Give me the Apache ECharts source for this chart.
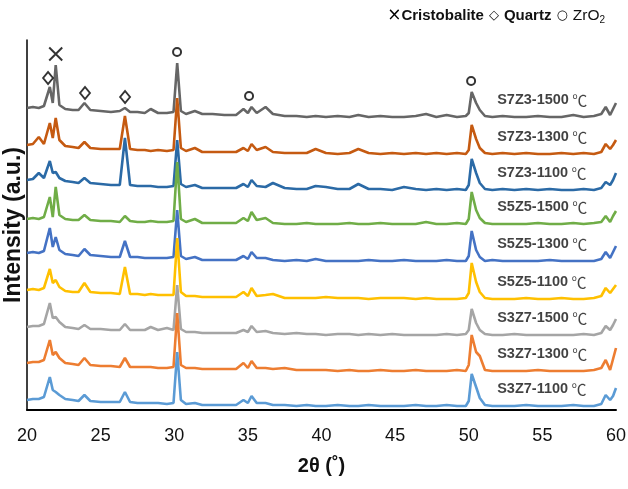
<!DOCTYPE html>
<html><head><meta charset="utf-8">
<script src="https://cdn.jsdelivr.net/npm/echarts@6/dist/echarts.min.js"></script>
<style>html,body{margin:0;padding:0;background:#fff}#c{width:628px;height:489px}</style>
</head><body><div id="c"></div>
<script>
// 2θ sampling positions (degrees)
const twoTheta = [
  20.0, 20.4, 20.8, 21.15, 21.55, 21.75, 21.95, 22.2, 22.6, 23.1,
  23.5, 23.9, 24.3, 25.0, 25.7, 26.3, 26.65, 27.0, 27.5,
  28.0, 28.4, 28.9, 29.5, 29.95, 30.2, 30.45, 30.8,
  31.4, 31.9, 32.6, 33.4, 34.2, 34.7, 35.0, 35.25, 35.6, 36.2, 36.7,
  37.5, 38.3, 39.0, 39.6, 40.3, 41.1, 41.9, 42.5, 43.2, 44.0, 44.8, 45.6, 46.4, 47.1, 47.8, 48.5, 49.2, 49.8,
  50.0, 50.2, 50.5, 50.75, 51.1, 51.6, 52.3,
  53.1, 53.9, 54.7, 55.5, 56.3, 57.1, 57.8, 58.5, 59.0, 59.3, 59.6, 59.8, 60.0
];

// relative intensities (a.u.)
const S7Z3_1500 = [
  9,10,9,11,30,14,52,12,8,7,
  7,14,7,6,5,6,9,5,5,
  4,8,4,4,5,54,6,3,
  6,3,3,2,2,8,4,10,4,10,3,
  1,1,0,1,0,1,0,2,0,1,0,0,1,3,0,2,0,1,
  4,25,14,7,1,0,1,
  0,0,1,0,0,2,0,1,3,10,2,8,14];
const S7Z3_1300 = [
  9,10,17,10,31,16,36,14,8,7,
  6,12,6,5,5,5,38,5,4,
  4,3,4,3,4,56,6,3,
  6,2,2,2,2,6,3,10,4,7,2,
  1,1,1,5,1,0,1,5,1,0,1,0,1,0,1,0,1,0,
  4,29,15,6,1,0,1,
  0,1,0,0,1,0,1,0,2,10,5,9,14];
const S7Z3_1100 = [
  10,11,17,12,29,17,18,12,9,8,
  7,12,7,6,5,5,52,5,4,
  4,4,3,3,4,50,6,3,
  5,2,2,2,2,6,3,10,4,3,7,
  2,1,1,4,3,1,1,6,1,1,0,3,1,0,1,0,1,0,
  5,31,17,7,1,0,1,
  0,1,0,1,0,0,1,0,2,8,5,10,17];
const S5Z5_1500 = [
  5,6,5,7,27,7,37,9,5,4,
  4,9,4,3,3,2,8,3,2,
  2,3,2,2,3,62,5,2,
  5,1,1,1,1,6,3,12,4,6,1,
  0,0,1,0,0,0,1,0,0,1,0,0,0,2,0,0,1,0,
  5,32,14,6,1,0,0,
  0,0,1,0,0,1,0,1,2,8,2,8,13];
const S5Z5_1300 = [
  8,9,8,10,33,14,24,11,7,6,
  5,12,6,5,4,4,20,4,4,
  3,3,3,3,4,51,5,2,
  4,1,1,1,1,5,2,9,3,3,1,
  0,1,0,2,0,0,0,0,1,0,0,1,0,0,0,1,0,0,
  5,30,11,4,0,1,0,
  0,0,0,1,0,0,0,0,2,9,3,9,15];
const S5Z5_1100 = [
  9,10,9,11,30,16,19,12,8,7,
  7,16,7,6,6,5,32,5,5,
  4,5,4,4,4,61,7,3,
  3,2,2,2,2,7,3,11,3,4,5,
  1,1,1,1,2,1,1,1,0,1,1,1,0,1,0,0,0,1,
  6,36,17,7,1,0,0,
  0,1,0,0,1,0,0,1,3,11,6,10,14];
const S3Z7_1500 = [
  8,9,9,11,32,17,18,13,8,7,
  6,10,6,6,5,5,11,5,5,
  5,8,5,7,5,50,6,3,
  3,2,2,2,2,5,3,9,3,4,2,
  1,2,1,1,0,1,1,0,1,0,1,0,0,0,0,1,0,1,
  5,26,12,5,1,0,0,
  1,0,0,0,0,0,1,0,2,9,5,10,16];
const S3Z7_1300 = [
  8,9,9,11,31,16,19,13,8,7,
  6,13,6,5,5,4,13,4,4,
  4,4,3,3,4,58,6,3,
  3,2,2,2,2,8,3,10,3,3,2,
  3,1,1,1,1,0,1,0,0,1,0,0,1,0,0,0,1,0,
  6,36,19,15,1,0,0,
  0,0,1,0,0,0,0,1,3,11,1,12,23];
const S3Z7_1100 = [
  6,7,7,9,29,16,14,11,7,6,
  5,11,5,4,4,4,14,4,3,
  3,3,3,2,3,54,6,2,
  3,1,1,1,1,6,3,10,3,3,1,
  1,0,1,0,0,1,0,0,1,0,0,0,1,0,0,1,0,0,
  5,32,19,8,1,0,0,
  0,1,0,0,0,1,0,0,2,11,6,10,18];

const sampleNames = ['S7Z3-1500','S7Z3-1300','S7Z3-1100','S5Z5-1500','S5Z5-1300','S5Z5-1100','S3Z7-1500','S3Z7-1300','S3Z7-1100'];
const patterns = [S7Z3_1500,S7Z3_1300,S7Z3_1100,S5Z5_1500,S5Z5_1300,S5Z5_1100,S3Z7_1500,S3Z7_1300,S3Z7_1100];
const stackOffsets = [293, 256, 220, 186, 149, 111, 75, 39, 4];
const colors = ['#666666','#c55a11','#2b6aa6','#70ad47','#4472c4','#ffc000','#a5a5a5','#ed7d31','#5b9bd5'];

// phase marks [2θ, height]
const cristobaliteMarks = [[21.95, 356]];
const quartzMarks = [[21.43, 332], [23.94, 317], [26.66, 313]];
const zirconiaMarks = [[30.19, 358], [35.08, 314], [50.16, 329]];

const xTicks = [20, 25, 30, 35, 40, 45, 50, 55, 60];

const chart = echarts.init(document.getElementById('c'), null, {renderer: 'canvas'});
const sans = "'Liberation Sans', Arial, sans-serif";
const series = patterns.map((p, k) => ({
  type: 'line',
  name: sampleNames[k],
  data: twoTheta.map((x, i) => [x, p[i] + stackOffsets[k]]),
  showSymbol: false,
  symbol: 'none',
  lineStyle: {width: 2.6, color: colors[k]},
  itemStyle: {color: colors[k]},
  z: 2
}));
series.push({
  type: 'scatter',
  data: stackOffsets.map((o) => [51.93, o + 17]),
  symbolSize: 0,
  z: 5,
  label: {
    show: true, position: 'right', distance: 0,
    formatter: (d) => '{b|' + sampleNames[d.dataIndex] + '} {c|℃}',
    rich: {
      b: {fontFamily: sans, fontWeight: 'bold', fontSize: 14.5, color: '#111'},
      c: {fontFamily: "'Noto Sans CJK SC', sans-serif", fontSize: 15, color: '#111'}
    }
  }
});
series.push({
  type: 'scatter', data: cristobaliteMarks, z: 6,
  symbol: 'path://M0,0L10,10M10,0L0,10', symbolSize: 13,
  itemStyle: {color: 'transparent', borderColor: '#000', borderWidth: 2}
});
series.push({
  type: 'scatter', data: quartzMarks, z: 6,
  symbol: 'diamond', symbolSize: [10, 12],
  itemStyle: {color: '#fff', borderColor: '#000', borderWidth: 1.8}
});
series.push({
  type: 'scatter', data: zirconiaMarks, z: 6,
  symbol: 'circle', symbolSize: 8,
  itemStyle: {color: '#fff', borderColor: '#000', borderWidth: 2}
});

chart.setOption({
  animation: false,
  backgroundColor: '#fff',
  title: {
    right: 18, top: 2,
    text: '{sym|×}{b|Cristobalite} {sym2|◇} {b|Quartz} {sym2|○} {r|ZrO}{sub|2}',
    textStyle: {
      fontWeight: 'normal',
      rich: {
        sym: {fontFamily: "'DejaVu Sans', sans-serif", fontWeight: 'normal', fontSize: 17, color: '#000'},
        sym2: {fontFamily: "'DejaVu Sans', sans-serif", fontWeight: 'bold', fontSize: 13, color: '#000'},
        b: {fontFamily: sans, fontWeight: 'bold', fontSize: 15, color: '#111'},
        r: {fontFamily: sans, fontWeight: 'normal', fontSize: 15.5, color: '#111'},
        sub: {fontFamily: sans, fontWeight: 'normal', fontSize: 10, color: '#111', padding: [8, 0, 0, 0]}
      }
    }
  },
  grid: {left: 27, right: 12, top: 40, bottom: 79, containLabel: false, outerBoundsMode: 'none'},
  xAxis: {
    type: 'value', min: 20, max: 60, interval: 5,
    axisLine: {show: true, lineStyle: {color: '#000', width: 2}},
    axisTick: {show: false},
    splitLine: {show: false},
    axisLabel: {
      color: '#111', fontSize: 18, fontFamily: sans, margin: 17,
      formatter: (v) => (xTicks.indexOf(v) >= 0 ? String(v) : '')
    },
    name: '2θ (˚)', nameLocation: 'middle', nameGap: 46,
    nameTextStyle: {color: '#111', fontSize: 20, fontWeight: 'bold', fontFamily: sans}
  },
  yAxis: {
    type: 'value', min: 0, max: 370,
    axisLine: {show: true, lineStyle: {color: '#000', width: 1.5}},
    axisTick: {show: false}, axisLabel: {show: false}, splitLine: {show: false},
    name: 'Intensity (a.u.)', nameLocation: 'middle', nameGap: 2,
    nameTextStyle: {color: '#111', fontSize: 23, fontWeight: 'bold', fontFamily: sans}
  },
  series: series
});
</script></body></html>
